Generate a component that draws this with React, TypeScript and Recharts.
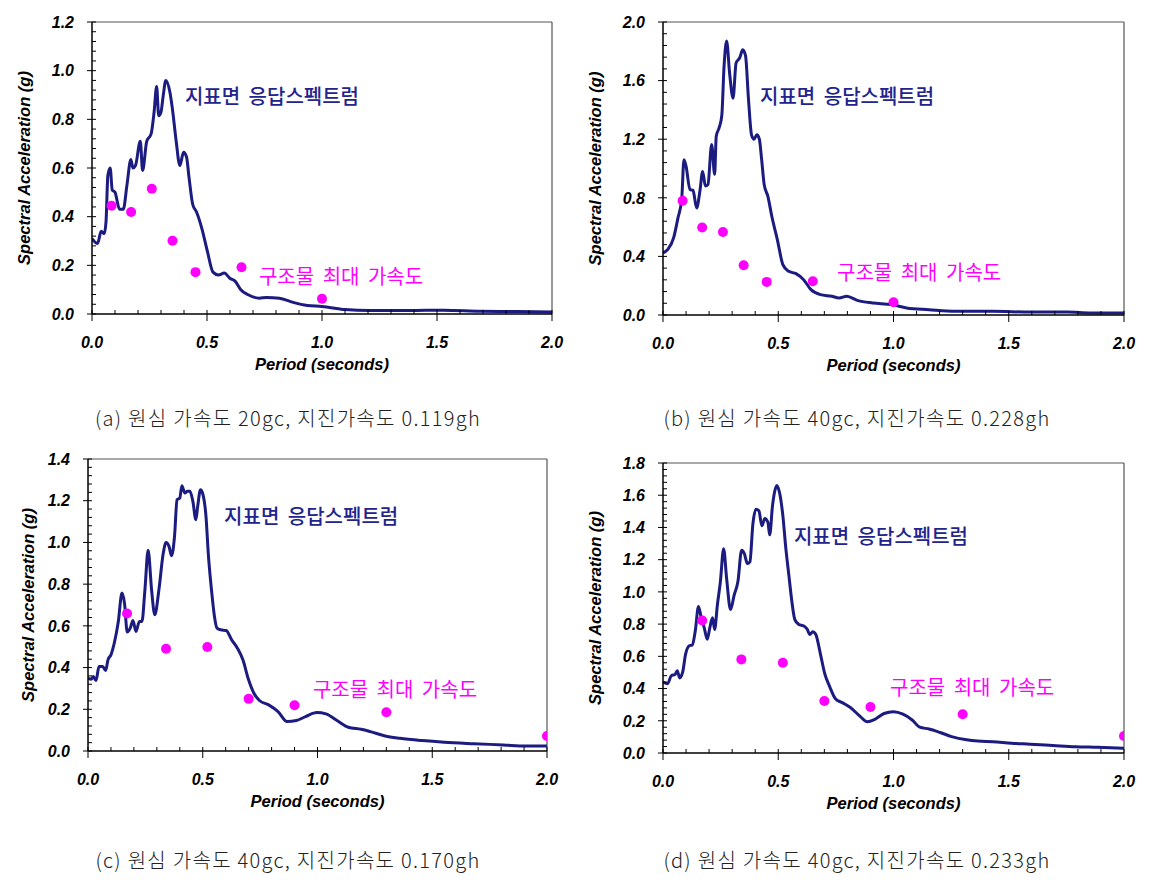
import React from "react";
import {
  ComposedChart,
  Line,
  Scatter,
  XAxis,
  YAxis,
  ReferenceLine,
  ReferenceDot,
} from "recharts";

// ---- (a) 20gc, 0.119gh ----
const periodA = [0, 0.024, 0.04, 0.053, 0.061, 0.069, 0.079, 0.088, 0.1, 0.12, 0.136, 0.152, 0.169, 0.178, 0.189, 0.21, 0.22, 0.238, 0.257, 0.27, 0.281, 0.29, 0.3, 0.31, 0.321, 0.339, 0.35, 0.366, 0.382, 0.398, 0.411, 0.422, 0.438, 0.454, 0.478, 0.502, 0.526, 0.55, 0.575, 0.599, 0.623, 0.647, 0.679, 0.727, 0.759, 0.815, 0.87, 0.936, 1.0, 1.1, 1.21, 1.37, 1.45, 1.53, 1.69, 1.85, 2.0];
const saA = [0.31, 0.29, 0.34, 0.33, 0.38, 0.57, 0.6, 0.51, 0.5, 0.43, 0.43, 0.53, 0.635, 0.6, 0.61, 0.71, 0.59, 0.71, 0.74, 0.83, 0.935, 0.815, 0.83, 0.9, 0.96, 0.91, 0.84, 0.71, 0.61, 0.665, 0.645, 0.56, 0.45, 0.42, 0.35, 0.256, 0.172, 0.16, 0.168, 0.147, 0.134, 0.1, 0.079, 0.065, 0.068, 0.065, 0.049, 0.035, 0.031, 0.018, 0.014, 0.014, 0.015, 0.015, 0.011, 0.01, 0.008];
const dotPeriodA = [0.085, 0.17, 0.26, 0.35, 0.45, 0.65, 1.0];
const dotAccA = [0.445, 0.419, 0.515, 0.301, 0.172, 0.192, 0.063];
const yMajorA = [0, 0.2, 0.4, 0.6, 0.8, 1.0, 1.2];

// ---- (b) 40gc, 0.228gh ----
const periodB = [0, 0.02, 0.046, 0.065, 0.081, 0.091, 0.1, 0.117, 0.13, 0.146, 0.16, 0.172, 0.184, 0.195, 0.211, 0.224, 0.231, 0.244, 0.255, 0.265, 0.276, 0.289, 0.304, 0.317, 0.333, 0.346, 0.358, 0.371, 0.384, 0.395, 0.407, 0.418, 0.428, 0.439, 0.455, 0.472, 0.496, 0.52, 0.545, 0.577, 0.61, 0.642, 0.683, 0.732, 0.764, 0.797, 0.846, 0.91, 0.992, 1.057, 1.154, 1.268, 1.431, 1.593, 1.756, 1.854, 2.0];
const saB = [0.424, 0.446, 0.526, 0.663, 0.788, 1.06, 1.016, 0.856, 0.852, 0.73, 0.845, 0.98, 0.88, 0.89, 1.164, 0.96, 1.22, 1.28, 1.36, 1.7, 1.87, 1.65, 1.48, 1.72, 1.756, 1.81, 1.77, 1.47, 1.23, 1.2, 1.23, 1.2, 1.06, 0.89, 0.81, 0.674, 0.515, 0.344, 0.298, 0.282, 0.241, 0.173, 0.139, 0.128, 0.116, 0.128, 0.098, 0.082, 0.071, 0.048, 0.036, 0.025, 0.025, 0.02, 0.02, 0.014, 0.014];
const dotPeriodB = [0.085, 0.17, 0.26, 0.35, 0.45, 0.65, 1.0];
const dotAccB = [0.78, 0.597, 0.567, 0.339, 0.226, 0.23, 0.087];
const yMajorB = [0, 0.4, 0.8, 1.2, 1.6, 2.0];

// ---- (c) 40gc, 0.170gh ----
const periodC = [0, 0.014, 0.023, 0.035, 0.048, 0.064, 0.077, 0.087, 0.1, 0.116, 0.132, 0.148, 0.159, 0.171, 0.184, 0.196, 0.209, 0.224, 0.235, 0.248, 0.262, 0.277, 0.291, 0.309, 0.328, 0.34, 0.353, 0.364, 0.377, 0.388, 0.4, 0.409, 0.422, 0.433, 0.444, 0.457, 0.47, 0.478, 0.49, 0.499, 0.514, 0.525, 0.538, 0.551, 0.562, 0.578, 0.602, 0.626, 0.651, 0.675, 0.699, 0.723, 0.747, 0.787, 0.828, 0.868, 0.908, 0.948, 0.997, 1.037, 1.085, 1.134, 1.19, 1.23, 1.295, 1.359, 1.456, 1.552, 1.681, 1.81, 1.907, 2.0];
const saC = [0.349, 0.344, 0.357, 0.338, 0.405, 0.405, 0.386, 0.437, 0.461, 0.525, 0.62, 0.757, 0.709, 0.57, 0.589, 0.626, 0.573, 0.621, 0.621, 0.773, 0.962, 0.773, 0.653, 0.773, 0.949, 1.0, 0.981, 0.936, 1.029, 1.205, 1.213, 1.272, 1.237, 1.245, 1.245, 1.197, 1.109, 1.173, 1.253, 1.237, 1.126, 0.933, 0.773, 0.645, 0.589, 0.581, 0.578, 0.533, 0.493, 0.437, 0.344, 0.277, 0.242, 0.221, 0.189, 0.141, 0.146, 0.165, 0.184, 0.178, 0.146, 0.114, 0.104, 0.093, 0.072, 0.061, 0.05, 0.042, 0.035, 0.029, 0.024, 0.024];
const dotPeriodC = [0.17, 0.34, 0.52, 0.7, 0.9, 1.3, 2.0];
const dotAccC = [0.659, 0.49, 0.499, 0.25, 0.219, 0.186, 0.072];
const yMajorC = [0, 0.2, 0.4, 0.6, 0.8, 1.0, 1.2, 1.4];

// ---- (d) 40gc, 0.233gh ----
const periodD = [0, 0.02, 0.036, 0.052, 0.062, 0.072, 0.085, 0.098, 0.114, 0.127, 0.14, 0.154, 0.166, 0.179, 0.192, 0.203, 0.215, 0.224, 0.236, 0.249, 0.263, 0.276, 0.293, 0.309, 0.325, 0.341, 0.353, 0.366, 0.377, 0.39, 0.403, 0.416, 0.429, 0.442, 0.455, 0.463, 0.475, 0.485, 0.494, 0.507, 0.52, 0.533, 0.546, 0.559, 0.572, 0.589, 0.611, 0.626, 0.637, 0.65, 0.663, 0.683, 0.702, 0.724, 0.748, 0.78, 0.813, 0.854, 0.886, 0.919, 0.959, 1.0, 1.041, 1.081, 1.114, 1.154, 1.203, 1.252, 1.317, 1.366, 1.431, 1.512, 1.593, 1.691, 1.789, 1.886, 2.0];
const saD = [0.44, 0.43, 0.48, 0.487, 0.511, 0.466, 0.5, 0.614, 0.665, 0.671, 0.757, 0.91, 0.839, 0.777, 0.706, 0.777, 0.839, 0.767, 0.92, 1.064, 1.268, 1.084, 0.89, 0.982, 1.064, 1.258, 1.237, 1.176, 1.186, 1.422, 1.513, 1.503, 1.411, 1.456, 1.432, 1.354, 1.534, 1.626, 1.661, 1.606, 1.473, 1.268, 1.104, 0.941, 0.828, 0.798, 0.788, 0.767, 0.736, 0.753, 0.736, 0.614, 0.491, 0.409, 0.337, 0.311, 0.282, 0.229, 0.194, 0.209, 0.245, 0.256, 0.241, 0.205, 0.16, 0.149, 0.127, 0.102, 0.082, 0.074, 0.07, 0.061, 0.055, 0.047, 0.039, 0.035, 0.029];
const dotPeriodD = [0.17, 0.34, 0.52, 0.7, 0.9, 1.3, 2.0];
const dotAccD = [0.822, 0.581, 0.56, 0.323, 0.286, 0.241, 0.106];
const yMajorD = [0, 0.2, 0.4, 0.6, 0.8, 1.0, 1.2, 1.4, 1.6, 1.8];

const xMajor = [0, 0.5, 1.0, 1.5, 2.0];
const captions = [
  "(a) 원심 가속도 20gc, 지진가속도 0.119gh",
  "(b) 원심 가속도 40gc, 지진가속도 0.228gh",
  "(c) 원심 가속도 40gc, 지진가속도 0.170gh",
  "(d) 원심 가속도 40gc, 지진가속도 0.233gh",
];
const curveLabel = "지표면 응답스펙트럼";
const dotLabel = "구조물 최대 가속도";

const NAVY = "#1b1b80";
const MAGENTA = "#ff00ff";
const YW = 92;
const MT = 10;
const MR = 20;
const XH = 70;

const zip = (xs: number[], ys: number[]) =>
  xs.slice(0, Math.min(xs.length, ys.length)).map((x, i) => ({ x, y: ys[i] }));

// n-1 minor ticks between each pair of majors
const withMinor = (majors: number[], n: number) => {
  const out: number[] = [];
  for (let i = 0; i < majors.length - 1; i++) {
    const step = (majors[i + 1] - majors[i]) / n;
    for (let k = 0; k < n; k++) out.push(+(majors[i] + k * step).toFixed(4));
  }
  out.push(majors[majors.length - 1]);
  return out;
};

const tickFont: React.CSSProperties = {
  fontFamily: "'Liberation Sans', Arial, sans-serif",
  fontWeight: 700,
  fontStyle: "italic",
  fontSize: 16,
  fill: "#000",
};

const isIn = (v: number, list: number[]) => list.some((m) => Math.abs(m - v) < 1e-6);

interface PanelProps {
  left: number;
  top: number;
  plotW: number;
  plotH: number;
  yMajor: number[];
  minorN: number;
  curve: { x: number; y: number }[];
  dots: { x: number; y: number }[];
  curveAt: [number, number];
  dotsAt: [number, number];
  titleGap: number;
  caption: string;
  captionX: number;
  captionY: number;
}

function Panel(props: PanelProps) {
  const { left, top, plotW, plotH, yMajor, minorN, curve, dots, curveAt, dotsAt, titleGap } = props;
  const yMax = yMajor[yMajor.length - 1];
  const yTicks = withMinor(yMajor, minorN);
  const xTicks = withMinor(xMajor, 5);

  const yTick = (p: any) => {
    const v = p.payload.value;
    const major = isIn(v, yMajor);
    return (
      <g>
        <line x1={p.x} x2={p.x + 4} y1={p.y} y2={p.y} stroke="#000" strokeWidth={1} />
        {major && <line x1={p.x - 5} x2={p.x} y1={p.y} y2={p.y} stroke="#000" strokeWidth={1} />}
        {major && (
          <text x={p.x - 18} y={p.y} dy="0.36em" textAnchor="end" style={tickFont}>
            {v.toFixed(1)}
          </text>
        )}
      </g>
    );
  };

  const xTick = (p: any) => {
    const v = p.payload.value;
    const major = isIn(v, xMajor);
    return (
      <g>
        <line x1={p.x} x2={p.x} y1={p.y} y2={p.y - 4} stroke="#000" strokeWidth={1} />
        {major && <line x1={p.x} x2={p.x} y1={p.y} y2={p.y + 7} stroke="#000" strokeWidth={1} />}
        {major && (
          <text x={p.x} y={p.y + 28} dy="0.36em" textAnchor="middle" style={tickFont}>
            {v.toFixed(1)}
          </text>
        )}
      </g>
    );
  };

  const yTitle = (p: any) => {
    const vb = p.viewBox || {};
    const cx = vb.x + vb.width - titleGap;
    const cy = vb.y + vb.height / 2;
    return (
      <text
        x={cx}
        y={cy}
        transform={`rotate(-90 ${cx} ${cy})`}
        textAnchor="middle"
        dy="0.36em"
        style={{ ...tickFont, fontSize: 16.5 }}
      >
        Spectral Acceleration (g)
      </text>
    );
  };

  const xTitle = (p: any) => {
    const vb = p.viewBox || {};
    return (
      <text
        x={vb.x + vb.width / 2}
        y={vb.y + 50}
        textAnchor="middle"
        dy="0.36em"
        style={{ ...tickFont, fontSize: 16.5 }}
      >
        Period (seconds)
      </text>
    );
  };

  const annot = (text: string, color: string, weight: number) => (p: any) => {
    const vb = p.viewBox || {};
    return (
      <text
        x={vb.x}
        y={vb.y}
        dy="0.36em"
        fill={color}
        style={{
          fontFamily: "'Noto Sans CJK KR', sans-serif",
          fontSize: 20,
          fontWeight: weight,
          wordSpacing: 4,
        }}
      >
        {text}
      </text>
    );
  };

  return (
    <>
      <div style={{ position: "absolute", left: left - YW, top: top - MT }}>
        <ComposedChart
          width={YW + plotW + MR}
          height={MT + plotH + XH}
          margin={{ top: MT, right: MR, bottom: 0, left: 0 }}
        >
          <XAxis
            type="number"
            dataKey="x"
            domain={[0, 2]}
            ticks={xTicks}
            interval={0}
            tickSize={0}
            tickMargin={0}
            tickLine={false}
            tick={xTick}
            height={XH}
            axisLine={{ stroke: "#000", strokeWidth: 1.5 }}
            allowDataOverflow
            label={xTitle}
          />
          <YAxis
            type="number"
            dataKey="y"
            domain={[0, yMax]}
            ticks={yTicks}
            interval={0}
            tickSize={0}
            tickMargin={0}
            tickLine={false}
            tick={yTick}
            width={YW}
            axisLine={{ stroke: "#000", strokeWidth: 1.5 }}
            allowDataOverflow
            label={yTitle}
          />
          <ReferenceLine y={yMax} stroke="#555" strokeWidth={1.2} />
          <ReferenceLine x={2} stroke="#555" strokeWidth={1.2} />
          <Line
            data={curve}
            dataKey="y"
            type="monotone"
            stroke={NAVY}
            strokeWidth={3}
            dot={false}
            activeDot={false}
            isAnimationActive={false}
          />
          <Scatter
            data={dots}
            dataKey="y"
            fill={MAGENTA}
            isAnimationActive={false}
            shape={(p: any) => <circle cx={p.cx} cy={p.cy} r={5} fill={MAGENTA} />}
          />
          <ReferenceDot
            x={curveAt[0]}
            y={curveAt[1]}
            r={0}
            fill="none"
            stroke="none"
            label={annot(curveLabel, "#23238c", 500)}
          />
          <ReferenceDot
            x={dotsAt[0]}
            y={dotsAt[1]}
            r={0}
            fill="none"
            stroke="none"
            label={annot(dotLabel, MAGENTA, 400)}
          />
        </ComposedChart>
      </div>
      <div
        style={{
          position: "absolute",
          left: props.captionX - 300,
          width: 600,
          top: props.captionY - 14,
          lineHeight: "28px",
          textAlign: "center",
          fontFamily: "'Noto Sans CJK KR', sans-serif",
          fontWeight: 300,
          fontSize: 20,
          color: "#222",
          letterSpacing: 1.3,
          whiteSpace: "nowrap",
        }}
      >
        {props.caption}
      </div>
    </>
  );
}

export default function App() {
  return (
    <div
      style={{
        position: "absolute",
        left: 0,
        top: 0,
        width: 1168,
        height: 882,
        background: "#fff",
        overflow: "hidden",
      }}
    >
      <Panel
        left={92}
        top={22}
        plotW={460}
        plotH={292}
        yMajor={yMajorA}
        minorN={5}
        curve={zip(periodA, saA)}
        dots={zip(dotPeriodA, dotAccA)}
        curveAt={[0.404, 0.892]}
        dotsAt={[0.726, 0.152]}
        titleGap={68}
        caption={captions[0]}
        captionX={288}
        captionY={418}
      />
      <Panel
        left={663}
        top={22}
        plotW={461}
        plotH={293}
        yMajor={yMajorB}
        minorN={5}
        curve={zip(periodB, saB)}
        dots={zip(dotPeriodB, dotAccB)}
        curveAt={[0.421, 1.488]}
        dotsAt={[0.755, 0.287]}
        titleGap={68}
        caption={captions[1]}
        captionX={857}
        captionY={418}
      />
      <Panel
        left={88}
        top={459}
        plotW={459}
        plotH={292}
        yMajor={yMajorC}
        minorN={5}
        curve={zip(periodC, saC)}
        dots={zip(dotPeriodC, dotAccC)}
        curveAt={[0.593, 1.122]}
        dotsAt={[0.98, 0.292]}
        titleGap={60}
        caption={captions[2]}
        captionX={288}
        captionY={860}
      />
      <Panel
        left={663}
        top={463}
        plotW={461}
        plotH={290}
        yMajor={yMajorD}
        minorN={5}
        curve={zip(periodD, saD)}
        dots={zip(dotPeriodD, dotAccD)}
        curveAt={[0.568, 1.341]}
        dotsAt={[0.985, 0.403]}
        titleGap={68}
        caption={captions[3]}
        captionX={857}
        captionY={860}
      />
    </div>
  );
}
